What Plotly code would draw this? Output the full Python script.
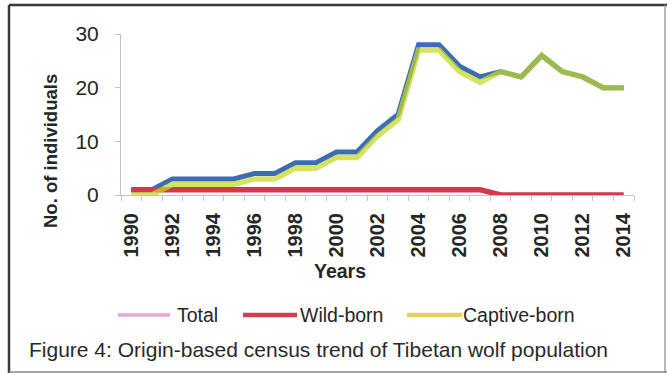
import plotly.graph_objects as go

# Census of Tibetan wolves by origin, 1990-2014
years = list(range(1990, 2015))
total = [1, 1, 3, 3, 3, 3, 4, 4, 6, 6, 8, 8, 12, 15, 28, 28, 24, 22, 23, 22, 26, 23, 22, 20, 20]
wild_born = [1, 1, 1, 1, 1, 1, 1, 1, 1, 1, 1, 1, 1, 1, 1, 1, 1, 1, 0, 0, 0, 0, 0, 0, 0]
captive_born = [0, 0, 2, 2, 2, 2, 3, 3, 5, 5, 7, 7, 11, 14, 27, 27, 23, 21, 23, 22, 26, 23, 22, 20, 20]

year_ticks = list(range(1990, 2015, 2))
year_labels = [str(y) for y in year_ticks]
y_ticks = [0, 10, 20, 30]

legend_names = ["Total", "Wild-born", "Captive-born"]
legend_colors = ["#e3a9d4", "#d2404f", "#e6d15e"]

FONT = "Liberation Sans, Arial, sans-serif"
TEXT = "#262626"
AXIS = "#c4c4c4"

# plot-area geometry in pixels (used to place the frame, titles and legend)
W, H = 667, 374
L, R, T, B = 121, 33, 34, 179
PW, PH = W - L - R, H - T - B


def px(x):
    return (x - L) / PW


def py(y):
    return (H - B - y) / PH


fig = go.Figure()
fig.add_trace(go.Scatter(x=years, y=total, mode="lines", name="Total",
                         line=dict(color="#3c6db3", width=5), showlegend=False))
fig.add_trace(go.Scatter(x=years, y=wild_born, mode="lines", name="Wild-born",
                         line=dict(color="#d23a4c", width=5.5), showlegend=False))
fig.add_trace(go.Scatter(x=years, y=captive_born, mode="lines", name="Captive-born",
                         line=dict(color="rgba(196,216,40,0.72)", width=5.5), showlegend=False))

shapes = []
annotations = []

# outer frame
shapes.append(dict(type="line", xref="paper", yref="paper", x0=px(9), x1=px(9), y0=py(5), y1=py(373),
                   line=dict(color="#3a3a3a", width=2.5)))
shapes.append(dict(type="line", xref="paper", yref="paper", x0=px(9), x1=px(667), y0=py(5), y1=py(5),
                   line=dict(color="#3a3a3a", width=2.5)))
shapes.append(dict(type="line", xref="paper", yref="paper", x0=px(665), x1=px(665), y0=py(5), y1=py(373),
                   line=dict(color="#a0a0a0", width=1.5)))
shapes.append(dict(type="line", xref="paper", yref="paper", x0=px(9), x1=px(667), y0=py(372), y1=py(372),
                   line=dict(color="#8a8a8a", width=1.5)))

# legend row
legend_line_x = [(118, 170), (243, 297), (407, 462)]
legend_text_x = [175, 298, 461]
leg_y = 315
for name, color, (a, b), tx in zip(legend_names, legend_colors, legend_line_x, legend_text_x):
    shapes.append(dict(type="line", xref="paper", yref="paper", x0=px(a), x1=px(b), y0=py(leg_y), y1=py(leg_y),
                       line=dict(color=color, width=4.5 if name != "Total" else 3.5)))
    annotations.append(dict(text=name, xref="paper", yref="paper", x=px(tx), y=py(leg_y),
                            xanchor="left", yanchor="middle", showarrow=False,
                            font=dict(family=FONT, size=19.5, color=TEXT)))

# axis titles and caption
annotations.append(dict(text="No. of individuals", xref="paper", yref="paper", x=px(50), y=py(151),
                        textangle=-90, showarrow=False, xanchor="center", yanchor="middle",
                        font=dict(family=FONT, size=18.5, color=TEXT, weight="bold")))
annotations.append(dict(text="Years", xref="paper", yref="paper", x=px(340), y=py(271),
                        showarrow=False, xanchor="center", yanchor="middle",
                        font=dict(family=FONT, size=19.5, color=TEXT, weight="bold")))
annotations.append(dict(text="Figure 4: Origin-based census trend of Tibetan wolf population",
                        xref="paper", yref="paper", x=px(318), y=py(349),
                        showarrow=False, xanchor="center", yanchor="middle",
                        font=dict(family=FONT, size=21, color="#2a2a2a")))

fig.update_layout(
    width=W, height=H,
    margin=dict(l=L, r=R, t=T, b=B),
    paper_bgcolor="white", plot_bgcolor="white",
    showlegend=False,
    shapes=shapes,
    annotations=annotations,
    xaxis=dict(
        range=[1989.5, 2014.5], tickvals=year_ticks, ticktext=year_labels, tickangle=-90,
        ticks="", showline=True, linecolor=AXIS, linewidth=1, showgrid=False, zeroline=False,
        minor=dict(ticks="outside", tick0=1989.5, dtick=1, ticklen=5, tickcolor=AXIS, showgrid=False),
        ticklabelstandoff=9,
        tickfont=dict(family=FONT, size=20, color=TEXT, weight="bold"),
    ),
    yaxis=dict(
        range=[0, 30], tickvals=y_ticks, ticks="outside", ticklen=5, tickcolor=AXIS,
        showline=True, linecolor=AXIS, linewidth=1, showgrid=False, zeroline=False,
        ticklabelstandoff=12,
        tickfont=dict(family=FONT, size=21, color=TEXT),
    ),
)

fig.write_html("out.html")
